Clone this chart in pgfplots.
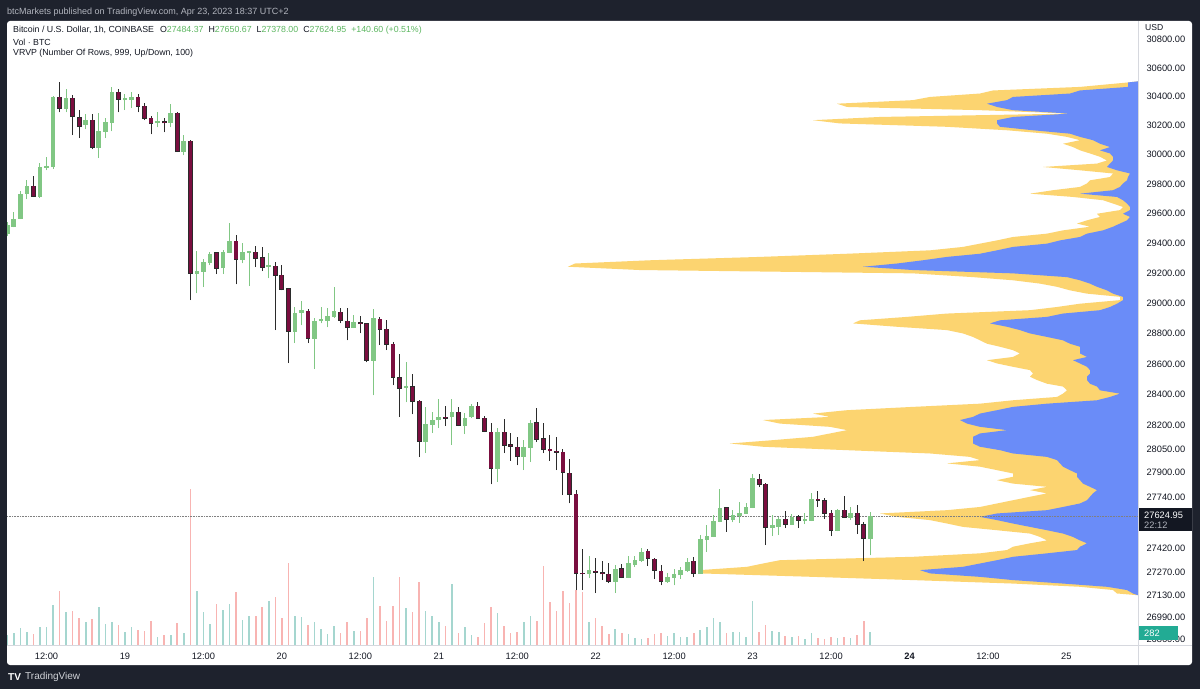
\documentclass[border=0pt]{standalone}
\usepackage{pgfplots}
\usepackage{pgfplotstable}
\pgfplotsset{compat=1.18}
\usepackage{fontspec}
\setmainfont{Liberation Sans}
\definecolor{frame}{HTML}{1E222D}
\definecolor{hdr}{HTML}{B2B5BE}
\definecolor{tvtext}{HTML}{131722}
\definecolor{sep}{HTML}{D6D8DE}
\definecolor{upc}{HTML}{81C784}
\definecolor{dnc}{HTML}{7A0E3F}
\definecolor{dnwick}{HTML}{2B2B2B}
\definecolor{volup}{HTML}{A5D6CF}
\definecolor{voldn}{HTML}{F8B4B2}
\definecolor{profY}{HTML}{FCD470}
\definecolor{profB}{HTML}{6A8CF8}
\definecolor{lg}{HTML}{5DB761}
\definecolor{tag}{HTML}{131722}
\definecolor{voltag}{HTML}{22AB94}
\newcommand\tvfont{\fontsize{9.3}{11}\selectfont}
\newcommand\lgfont{\fontsize{8.8}{10.5}\selectfont}

\pgfplotstableread{
t o h l c
-18 29469 29543 29448 29522
-17 29516 29610 29509 29563
-16 29570 29753 29563 29732
-15 29739 29827 29698 29786
-14 29786 29854 29711 29718
-13 29718 29943 29705 29916
-12 29916 29984 29896 29923
-11 29923 30405 29902 30398
-10 30398 30503 30294 30322
-9 30322 30454 30294 30391
-8 30391 30412 30135 30266
-7 30259 30308 30115 30197
-6 30211 30280 30177 30239
-5 30239 30280 30039 30053
-4 30053 30287 29978 30163
-3 30163 30253 30115 30225
-2 30225 30468 30163 30433
-1 30433 30454 30294 30384
0 30381 30419 30308 30388
1 30384 30433 30322 30398
2 30398 30419 30294 30336
3 30336 30356 30239 30253
4 30253 30273 30142 30218
5 30221 30294 30190 30228
6 30228 30259 30156 30221
7 30225 30349 30190 30287
8 30287 30294 30020 30025
9 30025 30135 29998 30094
10 30094 30101 29021 29201
11 29201 29348 29067 29214
12 29214 29294 29107 29274
13 29274 29341 29254 29327
14 29334 29341 29194 29234
15 29234 29354 29194 29341
16 29341 29536 29334 29415
17 29415 29455 29127 29294
18 29294 29401 29267 29341
19 29337 29348 29114 29344
20 29341 29381 29241 29301
21 29301 29374 29214 29241
22 29244 29334 29167 29251
23 29247 29274 28823 29187
24 29187 29254 29087 29094
25 29094 29101 28607 28816
26 28816 28975 28738 28935
27 28942 29015 28856 28955
28 28948 28962 28738 28770
29 28770 28902 28567 28882
30 28886 28975 28869 28892
31 28889 28968 28843 28915
32 28915 29107 28902 28948
33 28942 28968 28869 28889
34 28882 28968 28757 28843
35 28843 28922 28836 28876
36 28872 28915 28803 28866
37 28863 28869 28613 28626
38 28626 28962 28398 28902
39 28895 28909 28724 28830
40 28830 28889 28692 28731
41 28731 28744 28463 28515
42 28509 28665 28256 28444
43 28447 28613 28353 28453
44 28453 28535 28275 28359
45 28359 28366 27999 28102
46 28102 28321 28025 28211
47 28211 28288 28153 28237
48 28237 28372 28185 28256
49 28256 28327 28198 28250
50 28256 28372 28076 28288
51 28288 28321 28198 28204
52 28204 28282 28147 28250
53 28256 28340 28250 28327
54 28327 28353 28243 28250
55 28250 28262 28160 28166
56 28159 28217 27827 27929
57 27929 28185 27840 28159
58 28159 28243 28025 28076
59 28076 28153 27974 28070
60 28063 28127 27948 28005
61 28005 28108 27916 28063
62 28063 28237 27967 28217
63 28217 28314 28095 28114
64 28114 28217 28025 28050
65 28050 28140 27974 28041
66 28037 28127 27916 28031
67 28031 28050 27757 27903
68 27897 27986 27706 27764
69 27764 27789 27162 27267
70 27267 27417 27162 27264
71 27267 27373 27236 27286
72 27280 27361 27143 27273
73 27270 27342 27224 27264
74 27261 27329 27205 27217
75 27217 27317 27143 27292
76 27292 27323 27236 27242
77 27242 27373 27236 27329
78 27323 27373 27304 27348
79 27348 27423 27336 27398
80 27404 27417 27311 27361
81 27354 27361 27230 27286
82 27279 27317 27192 27217
83 27217 27267 27205 27242
84 27242 27292 27192 27261
85 27255 27305 27230 27286
86 27286 27361 27273 27336
87 27342 27367 27242 27267
88 27267 27505 27261 27480
89 27480 27568 27398 27499
90 27499 27631 27492 27593
91 27593 27795 27586 27675
92 27675 27681 27524 27605
93 27605 27662 27586 27631
94 27631 27713 27580 27643
95 27643 27706 27637 27681
96 27681 27891 27675 27865
97 27859 27891 27808 27827
98 27827 27833 27442 27555
99 27555 27631 27499 27568
100 27561 27618 27505 27605
101 27605 27656 27549 27574
102 27574 27637 27568 27618
103 27618 27631 27549 27599
104 27596 27643 27574 27602
105 27599 27770 27593 27732
106 27732 27783 27681 27726
107 27719 27738 27605 27643
108 27643 27662 27499 27536
109 27536 27668 27530 27662
110 27662 27751 27612 27618
111 27618 27681 27599 27643
112 27643 27694 27511 27574
113 27568 27587 27342 27484.37
114 27484.37 27650.67 27378 27624.95
}\candles

\pgfplotstableread{
t v u
-18 220 1
-17 257 1
-16 374 1
-15 279 1
-14 242 0
-13 396 1
-12 396 1
-11 880 1
-10 1188 0
-9 726 1
-8 748 0
-7 594 0
-6 506 1
-5 572 0
-4 836 1
-3 462 1
-2 506 1
-1 440 0
0 286 1
1 396 1
2 330 0
3 308 0
4 528 0
5 176 1
6 220 0
7 220 1
8 484 0
9 264 1
10 3432 0
11 1188 1
12 726 1
13 462 1
14 902 0
15 770 1
16 902 1
17 1166 0
18 550 1
19 638 1
20 638 0
21 836 0
22 968 1
23 1056 0
24 594 0
25 1804 0
26 638 1
27 616 1
28 440 0
29 506 1
30 352 1
31 242 1
32 418 1
33 264 0
34 506 0
35 308 1
36 308 0
37 594 0
38 1496 1
39 858 0
40 528 0
41 858 0
42 1496 0
43 814 1
44 726 0
45 1386 0
46 748 1
47 638 1
48 506 1
49 418 0
50 1342 1
51 264 0
52 396 1
53 220 1
54 176 0
55 484 0
56 836 0
57 704 1
58 418 0
59 264 0
60 286 0
61 506 1
62 638 1
63 528 0
64 1738 0
65 946 0
66 748 0
67 1188 0
68 924 0
69 1210 0
70 1166 0
71 506 1
72 594 0
73 418 0
74 242 0
75 352 1
76 264 0
77 242 1
78 154 1
79 132 1
80 154 0
81 242 0
82 264 0
83 198 1
84 264 1
85 176 1
86 176 1
87 264 0
88 330 1
89 396 1
90 594 1
91 506 1
92 264 0
93 286 1
94 286 1
95 176 1
96 968 1
97 286 0
98 440 0
99 308 1
100 286 1
101 198 0
102 176 1
103 198 0
104 132 1
105 264 1
106 154 0
107 132 0
108 176 0
109 154 1
110 176 0
111 154 1
112 220 0
113 528 0
114 282 1
}\vols

\pgfplotstableread{
p ly lb
30509 0 0
30502 10 10
30469 58 10
30447 145 58
30424 158 68
30400 208 125
30377 225 131
30354 301 151
30331 291 141
30308 158 125
30285 68 68
30262 258 125
30239 325 141
30216 298 141
30193 191 138
30170 131 105
30147 91 68
30124 71 58
30101 58 45
30078 75 38
30055 65 28
30032 58 38
30010 48 28
29987 38 25
29964 31 25
29941 41 28
29918 95 31
29896 58 21
29873 25 8
29850 28 10
29827 48 11
29805 51 15
29782 58 18
29759 85 25
29737 108 58
29714 65 21
29691 35 15
29669 25 11
29646 15 8
29624 18 8
29601 41 15
29579 38 8
29556 51 11
29534 61 18
29511 48 25
29489 75 35
29466 91 51
29444 125 58
29421 141 78
29399 158 91
29377 175 125
29354 208 141
29332 291 158
29310 378 191
29287 488 215
29265 563 241
29243 570 275
29221 498 225
29199 225 125
29176 165 71
29154 125 58
29132 98 48
29110 81 41
29087 68 31
29065 51 25
29043 18 15
29021 18 15
28999 58 21
28977 81 28
28955 108 38
28933 191 75
28911 231 91
28889 278 138
28867 285 148
28845 241 131
28823 191 118
28801 175 108
28779 165 91
28757 158 75
28735 151 68
28714 138 58
28692 125 58
28670 118 58
28648 125 51
28626 151 65
28605 141 58
28583 125 51
28561 108 48
28539 105 48
28518 108 51
28496 101 51
28474 91 48
28453 75 41
28431 71 38
28409 75 18
28388 81 28
28366 125 41
28344 158 91
28323 225 125
28301 291 141
28280 325 158
28258 308 165
28237 375 178
28215 358 171
28194 308 158
28172 291 131
28151 308 158
28129 325 165
28108 365 165
28087 408 165
28065 375 158
28044 291 138
28023 208 125
28001 168 91
27980 158 81
27959 191 78
27938 158 75
27916 141 68
27895 125 61
27874 125 61
27852 141 58
27831 125 55
27810 91 48
27789 108 41
27768 91 45
27747 108 48
27726 125 51
27704 141 58
27683 158 75
27662 191 91
27641 258 141
27620 241 158
27599 208 141
27578 191 125
27557 175 108
27536 141 91
27515 108 75
27494 98 65
27473 91 58
27453 108 51
27432 125 58
27411 131 61
27390 158 91
27369 225 125
27348 358 141
27327 375 158
27306 391 175
27286 438 218
27265 438 208
27244 325 158
27224 225 125
27203 125 75
27182 58 31
27162 25 11
27141 21 5
27130 0 0
}\profile

% price axis is logarithmic: plotted as ln(price) on a linear axis
\pgfplotsset{priceaxis/.style={at={(7pt,44pt)}, anchor=south west, scale only axis,
  width=1131pt, height=623pt, ymin=10.196978, ymax=10.339256}}

\begin{document}
\begin{tikzpicture}[x=1pt,y=1pt]
\fill[frame] (0,0) rectangle (1200,689);
\fill[white, rounded corners=3pt] (7,24) rectangle (1192,668);
\node[anchor=west, inner sep=0, text=hdr, font=\fontsize{9}{11}\selectfont] at (7,677) {btcMarkets published on TradingView.com, Apr 23, 2023 18:37 UTC+2};

% volume profile (VRVP)
\begin{axis}[priceaxis, xmin=0, xmax=1131, x dir=reverse, hide axis, clip=true]
\addplot[fill=profY, draw=none, mark=none] table[x=ly, y expr={ln(\thisrow{p})}] {\profile};
\addplot[fill=profB, draw=none, mark=none] table[x=lb, y expr={ln(\thisrow{p})}] {\profile};
\end{axis}

% volume
\begin{axis}[at={(7pt,44pt)}, anchor=south west, scale only axis, width=1131pt, height=623pt,
  xmin=-18.04, xmax=154.95, ymin=0, ymax=13706, hide axis, clip=true]
\addplot[ycomb, draw=volup, line width=1.6pt, mark=none,
  restrict expr to domain={\thisrow{u}}{0.5:1.5}] table[x=t, y=v] {\vols};
\addplot[ycomb, draw=voldn, line width=1.6pt, mark=none,
  restrict expr to domain={\thisrow{u}}{-0.5:0.5}] table[x=t, y=v] {\vols};
\end{axis}

% candles
\begin{axis}[priceaxis, xmin=-18.04, xmax=154.95,
  axis line style={draw=none}, tick style={draw=none}, major tick length=0pt, minor tick length=0pt,
  xtick={-12,0,12,24,36,48,60,72,84,96,108,120,132,144},
  xticklabels={12:00,19,12:00,20,12:00,21,12:00,22,12:00,23,12:00,\textbf{24},12:00,25},
  ytick={10.335270,10.328755,10.322198,10.315597,10.308953,10.302264,10.295530,10.288750,10.281924,10.275051,10.268131,10.261162,10.254144,10.247077,10.241744,10.236382,10.230631,10.219028,10.213542,10.208395,10.203222,10.198394},
  yticklabels={30800.00,30600.00,30400.00,30200.00,30000.00,29800.00,29600.00,29400.00,29200.00,29000.00,28800.00,28600.00,28400.00,28200.00,28050.00,27900.00,27740.00,27420.00,27270.00,27130.00,26990.00,26860.00},
  yticklabel pos=right,
  yticklabel style={anchor=west, xshift=5pt},
  xticklabel style={yshift=-4.5pt},
  ticklabel style={font=\tvfont, text=tvtext},
  /pgf/number format/assume math mode=true,
  clip=true]
\addplot[densely dotted, color=gray, line width=0.6pt, mark=none, forget plot]
  table[x=t, y expr={ln(\thisrow{p})}] {
t p
-19 27624.95
156 27624.95
};
% up wicks
\addplot[draw=none, mark=none, forget plot,
  restrict expr to domain={\thisrow{c}-\thisrow{o}}{0:100000},
  error bars/.cd, y dir=plus, y explicit, error mark=none,
  error bar style={draw=upc, line width=1pt}]
  table[x=t, y expr={ln(\thisrow{l})}, y error plus expr={ln(\thisrow{h}/\thisrow{l})}] {\candles};
% down wicks
\addplot[draw=none, mark=none, forget plot,
  restrict expr to domain={\thisrow{c}-\thisrow{o}}{-100000:-0.001},
  error bars/.cd, y dir=plus, y explicit, error mark=none,
  error bar style={draw=dnwick, line width=1pt}]
  table[x=t, y expr={ln(\thisrow{l})}, y error plus expr={ln(\thisrow{h}/\thisrow{l})}] {\candles};
% up bodies
\addplot[draw=none, mark=none, forget plot,
  restrict expr to domain={\thisrow{c}-\thisrow{o}}{0:100000},
  error bars/.cd, y dir=plus, y explicit, error mark=none,
  error bar style={draw=upc, line width=4.6pt}]
  table[x=t, y expr={ln(\thisrow{o})-0.0001}, y error plus expr={ln(\thisrow{c}/\thisrow{o})+0.0002}] {\candles};
% down bodies (outline + fill)
\addplot[draw=none, mark=none, forget plot,
  restrict expr to domain={\thisrow{c}-\thisrow{o}}{-100000:-0.001},
  error bars/.cd, y dir=plus, y explicit, error mark=none,
  error bar style={draw=dnwick, line width=4.8pt}]
  table[x=t, y expr={ln(\thisrow{c})-0.00015}, y error plus expr={ln(\thisrow{o}/\thisrow{c})+0.0003}] {\candles};
\addplot[draw=none, mark=none, forget plot,
  restrict expr to domain={\thisrow{c}-\thisrow{o}}{-100000:-0.001},
  error bars/.cd, y dir=plus, y explicit, error mark=none,
  error bar style={draw=dnc, line width=3.2pt}]
  table[x=t, y expr={ln(\thisrow{c})}, y error plus expr={ln(\thisrow{o}/\thisrow{c})}] {\candles};
\end{axis}

% separators
\draw[sep, line width=0.8pt] (7,44) -- (1192,44);
\draw[sep, line width=0.8pt] (1138,24) -- (1138,668);
\node[anchor=west, inner sep=0, text=tvtext, font=\fontsize{8.6}{10}\selectfont] at (1145,661) {USD};

% legend
\node[anchor=west, inner sep=0, text=tvtext, font=\lgfont] at (13,659) {Bitcoin / U.S. Dollar, 1h, COINBASE\hspace{6pt}O\textcolor{lg}{27484.37}\hspace{5pt}H\textcolor{lg}{27650.67}\hspace{5pt}L\textcolor{lg}{27378.00}\hspace{5pt}C\textcolor{lg}{27624.95}\hspace{5pt}\textcolor{lg}{+140.60 (+0.51\%)}};
\node[anchor=west, inner sep=0, text=tvtext, font=\lgfont] at (13,647) {Vol · BTC};
\node[anchor=west, inner sep=0, text=tvtext, font=\lgfont] at (13,635.5) {VRVP (Number Of Rows, 999, Up/Down, 100)};

% price tag
\fill[tag] (1139,158) rectangle (1192,181);
\node[anchor=west, inner sep=0, text=white, font=\tvfont] at (1144,174) {27624.95};
\node[anchor=west, inner sep=0, text=hdr, font=\tvfont] at (1144,163.5) {22:12};
% volume tag
\fill[voltag] (1139,49) rectangle (1178,63);
\node[anchor=west, inner sep=0, text=white, font=\tvfont] at (1144,56) {282};

% footer
\node[anchor=west, inner sep=0, text=white, font=\fontsize{10}{12}\selectfont\bfseries] at (8,12) {TV};
\node[anchor=west, inner sep=0, text=hdr!60!white, font=\fontsize{10}{12}\selectfont] at (25,12) {TradingView};

\pgfresetboundingbox
\path[use as bounding box] (0,0) rectangle (1200,689);
\end{tikzpicture}
\end{document}
